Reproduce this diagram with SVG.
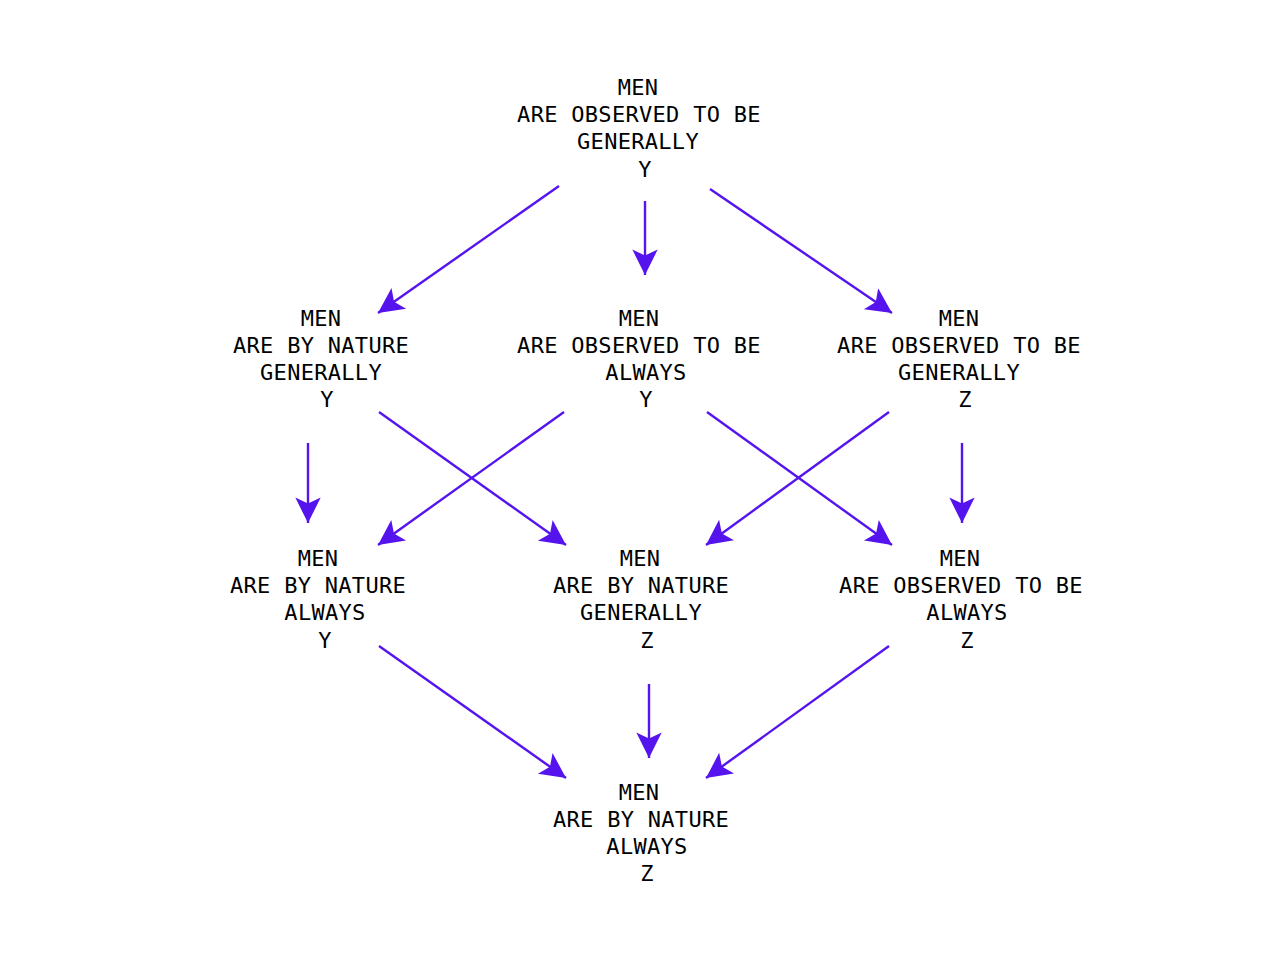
<svg xmlns="http://www.w3.org/2000/svg" width="1280" height="960" viewBox="0 0 1280 960">
<style>
text{font-family:"DejaVu Sans Mono","Liberation Mono",monospace;font-size:22px;fill:#000;text-anchor:middle;letter-spacing:0.3px}
.c{stroke:#5514EE;stroke-width:2.4;fill:none;marker-end:url(#ah)}
</style>
<defs>
<marker id="ah" markerUnits="userSpaceOnUse" markerWidth="30" markerHeight="30" viewBox="-24 -13 26 26" refX="0" refY="0" orient="auto">
<path d="M0,0 L-22,-11 L-17,0 L-22,11 Z" fill="#5514EE"/>
</marker>
</defs>
<rect width="1280" height="960" fill="#fff"/>
<g id="connectors">
<line class="c" x1="559" y1="186" x2="378" y2="313"/>
<line class="c" x1="645" y1="201" x2="645" y2="275"/>
<line class="c" x1="710" y1="189" x2="892" y2="313"/>
<line class="c" x1="308" y1="443" x2="308" y2="523"/>
<line class="c" x1="379" y1="412" x2="566" y2="545"/>
<line class="c" x1="564" y1="412" x2="378" y2="545"/>
<line class="c" x1="707" y1="412" x2="892" y2="545"/>
<line class="c" x1="889" y1="412" x2="706" y2="545"/>
<line class="c" x1="962" y1="443" x2="962" y2="523"/>
<line class="c" x1="379" y1="646" x2="566" y2="778"/>
<line class="c" x1="649" y1="684" x2="649" y2="758"/>
<line class="c" x1="889" y1="646" x2="706" y2="778"/>
</g>
<g id="n-top">
<text x="638" y="95">MEN</text>
<text x="639" y="122">ARE OBSERVED TO BE</text>
<text x="638" y="149">GENERALLY</text>
<text x="645" y="177">Y</text>
</g>
<g id="n-nature-generally-y">
<text x="321" y="326">MEN</text>
<text x="321" y="353">ARE BY NATURE</text>
<text x="321" y="380">GENERALLY</text>
<text x="327" y="407">Y</text>
</g>
<g id="n-observed-always-y">
<text x="639" y="326">MEN</text>
<text x="639" y="353">ARE OBSERVED TO BE</text>
<text x="646" y="380">ALWAYS</text>
<text x="646" y="407">Y</text>
</g>
<g id="n-observed-generally-z">
<text x="959" y="326">MEN</text>
<text x="959" y="353">ARE OBSERVED TO BE</text>
<text x="959" y="380">GENERALLY</text>
<text x="965" y="407">Z</text>
</g>
<g id="n-nature-always-y">
<text x="318" y="566">MEN</text>
<text x="318" y="593">ARE BY NATURE</text>
<text x="325" y="620">ALWAYS</text>
<text x="325" y="648">Y</text>
</g>
<g id="n-nature-generally-z">
<text x="640" y="566">MEN</text>
<text x="641" y="593">ARE BY NATURE</text>
<text x="641" y="620">GENERALLY</text>
<text x="647" y="648">Z</text>
</g>
<g id="n-observed-always-z">
<text x="960" y="566">MEN</text>
<text x="961" y="593">ARE OBSERVED TO BE</text>
<text x="967" y="620">ALWAYS</text>
<text x="967" y="648">Z</text>
</g>
<g id="n-bottom">
<text x="639" y="800">MEN</text>
<text x="641" y="827">ARE BY NATURE</text>
<text x="647" y="854">ALWAYS</text>
<text x="647" y="881">Z</text>
</g>
</svg>
